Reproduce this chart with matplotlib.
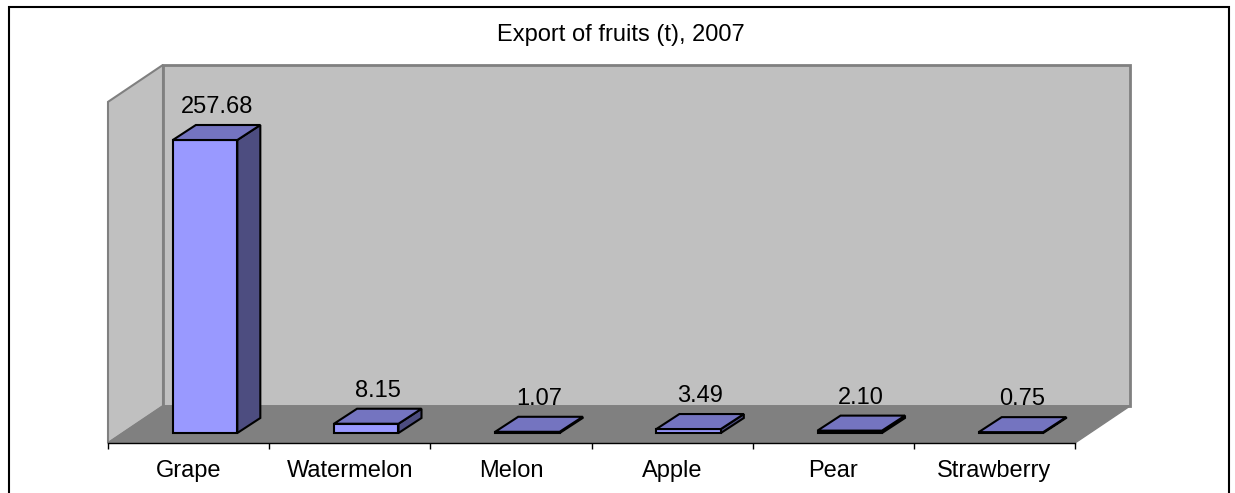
import numpy as np
import matplotlib
matplotlib.use("Agg")
import matplotlib.pyplot as plt
from matplotlib.patches import Polygon, Rectangle

# data
fruits = ["Grape", "Watermelon", "Melon", "Apple", "Pear", "Strawberry"]
export_t = [257.68, 8.15, 1.07, 3.49, 2.10, 0.75]
title = "Export of fruits (t), 2007"

plt.rcParams['font.family'] = ['Liberation Sans', 'DejaVu Sans']

W, H = 1235, 493
fig = plt.figure(figsize=(W / 100, H / 100), dpi=100)
ax = fig.add_axes([0, 0, 1, 1])
ax.set_axis_off()

# pixel scale of the plot (x: one category, y: one tonne)
px_x = 161.17
px_y = 293 / 257.68
left_px, zero_px = 108, 433
ax.set_xlim(-0.5 - left_px / px_x, -0.5 + (W - left_px) / px_x)
ax.set_ylim(-(H - zero_px) / px_y, zero_px / px_y)

n = len(fruits)
ymax = 300
# oblique depth of the floor and of the bars
dx, dy = 55 / px_x, 37 / px_y
floor_y = -10 / px_y
bdx, bdy = 23 / px_x, 15 / px_y
shift = 16.5 / px_x
width = 0.40

wall = '#C0C0C0'
edge = '#808080'
x_l, x_r = -0.5, n - 0.5
back_y = floor_y + dy

# side wall, back wall, floor
ax.add_patch(Polygon([(x_l, floor_y), (x_l + dx, back_y), (x_l + dx, back_y + ymax),
                      (x_l, floor_y + ymax)], closed=True,
                     facecolor=wall, edgecolor=edge, lw=1.5, zorder=1))
ax.add_patch(Polygon([(x_l + dx, back_y), (x_r + dx, back_y), (x_r + dx, back_y + ymax),
                      (x_l + dx, back_y + ymax)], closed=True,
                     facecolor=wall, edgecolor=edge, lw=2, zorder=1))
ax.add_patch(Polygon([(x_l, floor_y), (x_r, floor_y), (x_r + dx, back_y), (x_l + dx, back_y)],
                     closed=True, facecolor='#808080', edgecolor=edge, lw=1, zorder=2))

# category axis with ticks between categories
ax.plot([x_l, x_r], [floor_y, floor_y], color='black', lw=1, zorder=3)
ax.vlines(np.arange(n + 1) - 0.5, floor_y - 6 / px_y, floor_y, color='black', lw=1, zorder=3)
for i, name in enumerate(fruits):
    ax.text(i, floor_y - 34 / px_y, name, ha='center', va='baseline', fontsize=17)

# bars: front face + side + top
xs = np.arange(n) + shift
ax.bar(xs, export_t, width=width, color='#9999FF', edgecolor='black', lw=1.5, zorder=5)
for x, v in zip(xs, export_t):
    x0, x1 = x - width / 2, x + width / 2
    ax.add_patch(Polygon([(x1, 0), (x1 + bdx, bdy), (x1 + bdx, v + bdy), (x1, v)],
                         closed=True, facecolor='#4D4D80', edgecolor='black', lw=1.5, zorder=4))
    ax.add_patch(Polygon([(x0, v), (x1, v), (x1 + bdx, v + bdy), (x0 + bdx, v + bdy)],
                         closed=True, facecolor='#7474C0', edgecolor='black', lw=1.5, zorder=6))
    ax.text(x + bdx / 2, v + bdy + 12 / px_y, f"{v:.2f}", ha='center', va='baseline', fontsize=17,
            zorder=7)

fig.text(621 / W, 1 - 35 / H, title, ha='center', va='center', fontsize=17)

# outer chart frame
fig.patches.append(Rectangle((9 / W, -0.1), (1229 - 9) / W, 1.1 - 7 / H, fill=False,
                             edgecolor='black', lw=1.5, transform=fig.transFigure))

fig.savefig("out.png", dpi=100)
